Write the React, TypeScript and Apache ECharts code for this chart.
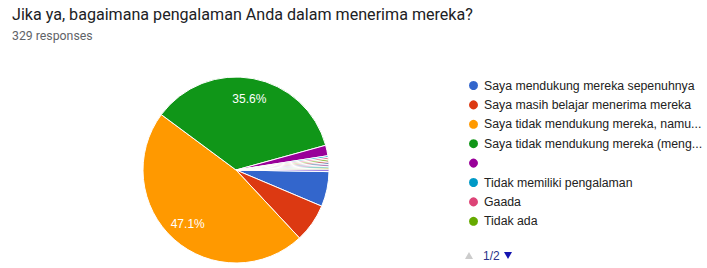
import React, { useEffect, useRef } from "react";
import * as echarts from "echarts";

const titleText = "Jika ya, bagaimana pengalaman Anda dalam menerima mereka?";

const categories = [
  "Saya mendukung mereka sepenuhnya",
  "Saya masih belajar menerima mereka",
  "Saya tidak mendukung mereka, namun tetap menghormati",
  "Saya tidak mendukung mereka (menghindari)",
  " ",
  "Tidak memiliki pengalaman",
  "Gaada",
  "Tidak ada",
  "Biasa saja",
  "Netral",
  "Belum pernah",
  "Tidak tahu",
  "-",
  "Tidak ada pengalaman",
];

const counts = [20, 22, 155, 117, 6, 1, 1, 1, 1, 1, 1, 1, 1, 1];

const colors = [
  "#3366cc", "#dc3912", "#ff9900", "#109618", "#990099", "#0099c6", "#dd4477",
  "#66aa00", "#b82e2e", "#316395", "#994499", "#22aa99", "#aaaa11", "#6633cc",
];

const itemsPerPage = 8;

export default function App() {
  const ref = useRef<HTMLDivElement>(null);
  useEffect(() => {
    if (!ref.current) return;
    const chart = echarts.init(ref.current, null, { renderer: "svg" });
    const total = counts.reduce((a, b) => a + b, 0);
    const data = categories.map((name, i) => ({
      name,
      value: counts[i],
      itemStyle: { color: colors[i] },
    }));
    const labelData = categories.map((name, i) => ({ name, value: counts[i] }));
    const pages = Math.ceil(categories.length / itemsPerPage);
    const legendFont = "'Liberation Sans', Arial, sans-serif";

    chart.setOption({
      animation: false,
      backgroundColor: "#ffffff",
      title: {
        text: titleText,
        subtext: `${total} responses`,
        left: 7,
        top: 1,
        itemGap: 8,
        textStyle: {
          fontFamily: "Roboto, sans-serif",
          fontSize: 16.1,
          fontWeight: "normal",
          color: "#202124",
        },
        subtextStyle: {
          fontFamily: "Roboto, sans-serif",
          fontSize: 12.3,
          color: "#5f6368",
        },
      },
      legend: {
        orient: "vertical",
        left: 462,
        top: 74,
        icon: "circle",
        itemWidth: 11,
        itemHeight: 11,
        itemGap: 6.4,
        selectedMode: false,
        data: categories.slice(0, itemsPerPage),
        textStyle: {
          fontFamily: legendFont,
          fontSize: 12.3,
          color: "#222222",
          width: 222,
          overflow: "truncate",
          ellipsis: "...",
        },
      },
      graphic: [
        {
          type: "polygon",
          shape: { points: [[465, 259], [473, 259], [469, 252]] },
          style: { fill: "#cccccc" },
        },
        {
          type: "text",
          x: 483,
          y: 256,
          style: {
            text: `1/${pages}`,
            fontFamily: legendFont,
            fontSize: 12,
            fill: "#2a3288",
            verticalAlign: "middle",
          },
        },
        {
          type: "polygon",
          shape: { points: [[504, 252], [512, 252], [508, 259]] },
          style: { fill: "#1414b0" },
        },
      ],
      series: [
        {
          type: "pie",
          center: [236, 170],
          radius: 93,
          startAngle: -1,
          clockwise: true,
          data,
          label: { show: false },
          labelLine: { show: false },
          itemStyle: { borderColor: "#ffffff", borderWidth: 1 },
          emphasis: { disabled: true },
          silent: true,
        },
        {
          type: "pie",
          center: [236, 170],
          radius: [46, 93],
          startAngle: -1,
          clockwise: true,
          data: labelData,
          itemStyle: { color: "rgba(0,0,0,0)", borderWidth: 0 },
          label: {
            show: true,
            position: "inside",
            color: "#ffffff",
            fontFamily: legendFont,
            fontSize: 12,
            formatter: (p: any) =>
              p.value / total >= 0.1 ? `${((p.value / total) * 100).toFixed(1)}%` : "",
          },
          labelLine: { show: false },
          emphasis: { disabled: true },
          silent: true,
        },
      ],
    });
    return () => chart.dispose();
  }, []);
  return (
    <div
      ref={ref}
      style={{ position: "absolute", left: 0, top: 0, width: 707, height: 268 }}
    />
  );
}
